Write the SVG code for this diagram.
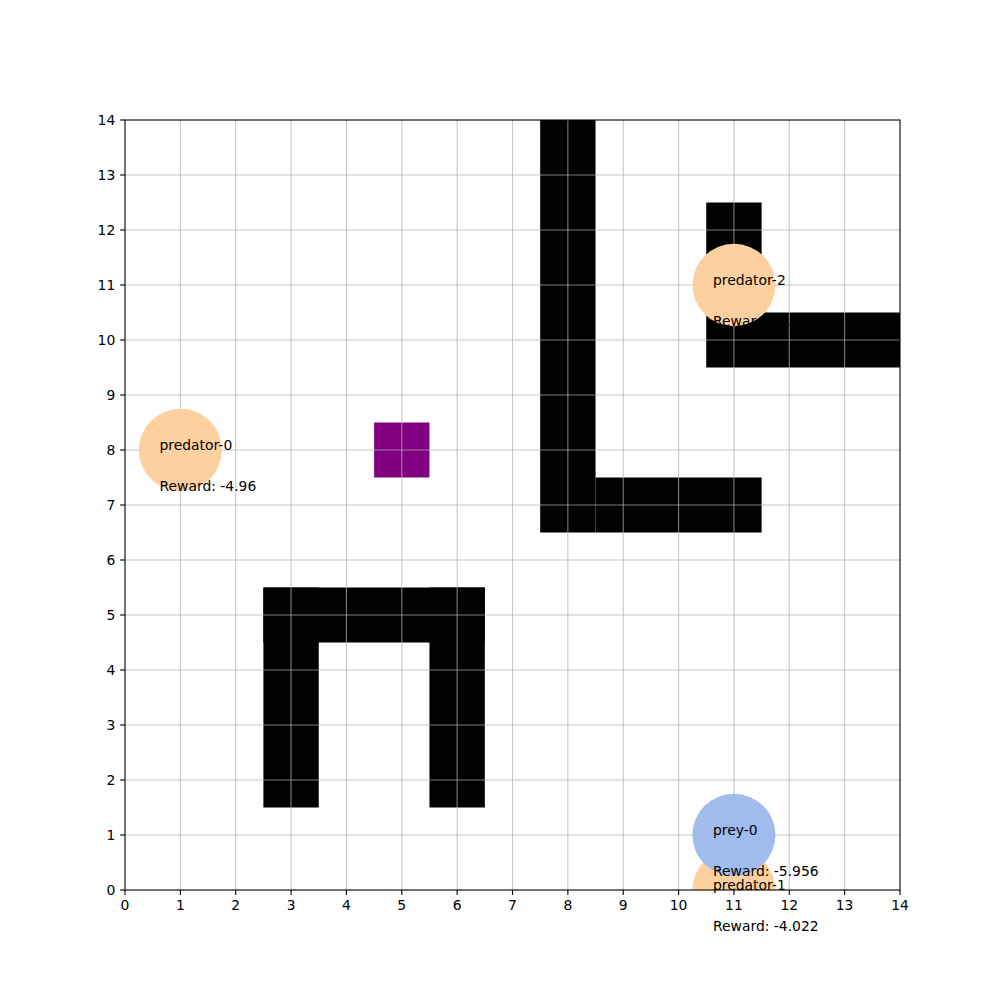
<svg xmlns="http://www.w3.org/2000/svg" width="1000" height="1000" viewBox="0 0 1000 1000">
<defs>
<style>
.wall{fill:#000000}
.grid line{stroke:#b0b0b0;stroke-opacity:0.7;stroke-width:1.1}
.pred{fill:#FFD09F}
.prey{fill:#9FBCEC}
.lbl{font-family:"DejaVu Sans",sans-serif;font-size:13.9px;fill:#000}
.tick line{stroke:#000;stroke-width:1.1}
.xt{font-family:"DejaVu Sans",sans-serif;font-size:13.9px;text-anchor:middle;fill:#000}
.yt{font-family:"DejaVu Sans",sans-serif;font-size:13.9px;text-anchor:end;fill:#000}
</style>
<clipPath id="ax"><rect x="125" y="120" width="775" height="770"/></clipPath>
</defs>
<rect width="1000" height="1000" fill="#fff"/>
<g id="walls">
<rect class="wall" x="540.18" y="120" width="55.36" height="412.5"/>
<rect class="wall" x="595.54" y="477.5" width="166.07" height="55"/>
<rect class="wall" x="706.25" y="202.5" width="55.36" height="110"/>
<rect class="wall" x="706.25" y="312.5" width="193.75" height="55"/>
<rect class="wall" x="263.39" y="587.5" width="221.43" height="55"/>
<rect class="wall" x="263.39" y="587.5" width="55.36" height="220"/>
<rect class="wall" x="429.46" y="587.5" width="55.36" height="220"/>
</g>
<rect id="goal" x="374.11" y="422.5" width="55.36" height="55" fill="#800080"/>
<g class="grid" id="grid">
<line x1="180.36" y1="120" x2="180.36" y2="890"/>
<line x1="235.71" y1="120" x2="235.71" y2="890"/>
<line x1="291.07" y1="120" x2="291.07" y2="890"/>
<line x1="346.43" y1="120" x2="346.43" y2="890"/>
<line x1="401.79" y1="120" x2="401.79" y2="890"/>
<line x1="457.14" y1="120" x2="457.14" y2="890"/>
<line x1="512.5" y1="120" x2="512.5" y2="890"/>
<line x1="567.86" y1="120" x2="567.86" y2="890"/>
<line x1="623.21" y1="120" x2="623.21" y2="890"/>
<line x1="678.57" y1="120" x2="678.57" y2="890"/>
<line x1="733.93" y1="120" x2="733.93" y2="890"/>
<line x1="789.29" y1="120" x2="789.29" y2="890"/>
<line x1="844.64" y1="120" x2="844.64" y2="890"/>
<line x1="125" y1="835" x2="900" y2="835"/>
<line x1="125" y1="780" x2="900" y2="780"/>
<line x1="125" y1="725" x2="900" y2="725"/>
<line x1="125" y1="670" x2="900" y2="670"/>
<line x1="125" y1="615" x2="900" y2="615"/>
<line x1="125" y1="560" x2="900" y2="560"/>
<line x1="125" y1="505" x2="900" y2="505"/>
<line x1="125" y1="450" x2="900" y2="450"/>
<line x1="125" y1="395" x2="900" y2="395"/>
<line x1="125" y1="340" x2="900" y2="340"/>
<line x1="125" y1="285" x2="900" y2="285"/>
<line x1="125" y1="230" x2="900" y2="230"/>
<line x1="125" y1="175" x2="900" y2="175"/>
</g>
<g id="predator-0"><ellipse class="pred" cx="180.36" cy="450" rx="41.5" ry="41.25"/></g>
<g id="predator-2"><ellipse class="pred" cx="733.93" cy="285" rx="41.5" ry="41.25"/></g>
<g id="predator-1"><ellipse class="pred" cx="733.93" cy="890" rx="41.5" ry="41.25" clip-path="url(#ax)"/></g>
<g id="prey-0"><ellipse class="prey" cx="733.93" cy="835" rx="41.5" ry="41.25"/></g>
<g id="labels">
<text class="lbl" x="159.5" y="450">predator-0</text>
<text class="lbl" x="159.5" y="491.25">Reward: -4.96</text>
<text class="lbl" x="713" y="285">predator-2</text>
<text class="lbl" x="713" y="326.25">Reward: -4.22</text>
<text class="lbl" x="713" y="835">prey-0</text>
<text class="lbl" x="713" y="876.25">Reward: -5.956</text>
<text class="lbl" x="713" y="890">predator-1</text>
<text class="lbl" x="713" y="931.25">Reward: -4.022</text>
</g>
<g id="axes">
<rect x="125" y="120" width="775" height="770" fill="none" stroke="#000" stroke-width="1.1"/>
<g class="tick">
<line x1="125" y1="890" x2="125" y2="894.9"/>
<line x1="180.36" y1="890" x2="180.36" y2="894.9"/>
<line x1="235.71" y1="890" x2="235.71" y2="894.9"/>
<line x1="291.07" y1="890" x2="291.07" y2="894.9"/>
<line x1="346.43" y1="890" x2="346.43" y2="894.9"/>
<line x1="401.79" y1="890" x2="401.79" y2="894.9"/>
<line x1="457.14" y1="890" x2="457.14" y2="894.9"/>
<line x1="512.5" y1="890" x2="512.5" y2="894.9"/>
<line x1="567.86" y1="890" x2="567.86" y2="894.9"/>
<line x1="623.21" y1="890" x2="623.21" y2="894.9"/>
<line x1="678.57" y1="890" x2="678.57" y2="894.9"/>
<line x1="733.93" y1="890" x2="733.93" y2="894.9"/>
<line x1="789.29" y1="890" x2="789.29" y2="894.9"/>
<line x1="844.64" y1="890" x2="844.64" y2="894.9"/>
<line x1="900" y1="890" x2="900" y2="894.9"/>
<line x1="120.1" y1="890" x2="125" y2="890"/>
<line x1="120.1" y1="835" x2="125" y2="835"/>
<line x1="120.1" y1="780" x2="125" y2="780"/>
<line x1="120.1" y1="725" x2="125" y2="725"/>
<line x1="120.1" y1="670" x2="125" y2="670"/>
<line x1="120.1" y1="615" x2="125" y2="615"/>
<line x1="120.1" y1="560" x2="125" y2="560"/>
<line x1="120.1" y1="505" x2="125" y2="505"/>
<line x1="120.1" y1="450" x2="125" y2="450"/>
<line x1="120.1" y1="395" x2="125" y2="395"/>
<line x1="120.1" y1="340" x2="125" y2="340"/>
<line x1="120.1" y1="285" x2="125" y2="285"/>
<line x1="120.1" y1="230" x2="125" y2="230"/>
<line x1="120.1" y1="175" x2="125" y2="175"/>
<line x1="120.1" y1="120" x2="125" y2="120"/>
</g>
<text class="xt" x="125" y="910">0</text>
<text class="xt" x="180.36" y="910">1</text>
<text class="xt" x="235.71" y="910">2</text>
<text class="xt" x="291.07" y="910">3</text>
<text class="xt" x="346.43" y="910">4</text>
<text class="xt" x="401.79" y="910">5</text>
<text class="xt" x="457.14" y="910">6</text>
<text class="xt" x="512.5" y="910">7</text>
<text class="xt" x="567.86" y="910">8</text>
<text class="xt" x="623.21" y="910">9</text>
<text class="xt" x="678.57" y="910">10</text>
<text class="xt" x="733.93" y="910">11</text>
<text class="xt" x="789.29" y="910">12</text>
<text class="xt" x="844.64" y="910">13</text>
<text class="xt" x="900" y="910">14</text>
<text class="yt" x="115.3" y="895">0</text>
<text class="yt" x="115.3" y="840">1</text>
<text class="yt" x="115.3" y="785">2</text>
<text class="yt" x="115.3" y="730">3</text>
<text class="yt" x="115.3" y="675">4</text>
<text class="yt" x="115.3" y="620">5</text>
<text class="yt" x="115.3" y="565">6</text>
<text class="yt" x="115.3" y="510">7</text>
<text class="yt" x="115.3" y="455">8</text>
<text class="yt" x="115.3" y="400">9</text>
<text class="yt" x="115.3" y="345">10</text>
<text class="yt" x="115.3" y="290">11</text>
<text class="yt" x="115.3" y="235">12</text>
<text class="yt" x="115.3" y="180">13</text>
<text class="yt" x="115.3" y="125">14</text>
</g>
</svg>
